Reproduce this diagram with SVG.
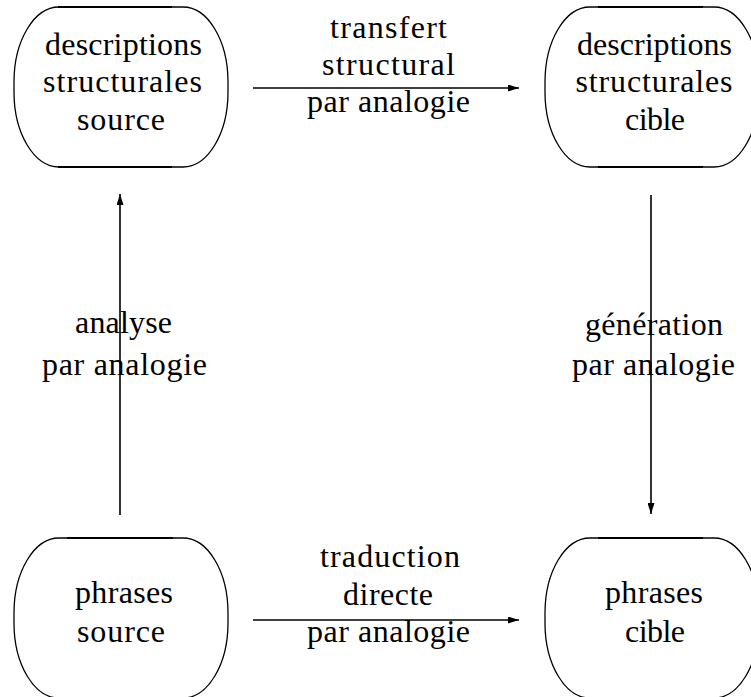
<svg xmlns="http://www.w3.org/2000/svg" width="751" height="697" viewBox="0 0 751 697">
  <defs>
    <marker id="head" markerWidth="11" markerHeight="7" refX="11" refY="3.5" orient="auto" markerUnits="userSpaceOnUse">
      <path d="M0,0 L11,3.5 L0,7 Z" fill="#000"/>
    </marker>
    <style>
      .box { fill: #fff; stroke: #000; stroke-width: 1.3; }
      .edge { stroke: #000; stroke-width: 2.2; }
      .lbl { font-family: 'Liberation Serif', serif; font-size: 32px; fill: #000; text-anchor: middle; }
      .conn { stroke: #000; stroke-width: 1.6; fill: none; marker-end: url(#head); }
    </style>
  </defs>
  <rect width="751" height="697" fill="#fff"/>

  <!-- source structural descriptions -->
  <g id="desc-source">
    <path class="box" d="M59,7 H183 A45,75 0 0 1 228,82 V92 A45,75 0 0 1 183,167 H59 A45,75 0 0 1 14,92 V82 A45,75 0 0 1 59,7 Z"/>
    <line class="edge" x1="58" y1="7" x2="172" y2="7"/>
    <line class="edge" x1="58" y1="167" x2="172" y2="167"/>
    <text class="lbl" x="123.5" y="55" textLength="157">descriptions</text>
    <text class="lbl" x="122.5" y="92" textLength="159">structurales</text>
    <text class="lbl" x="121" y="130" textLength="88">source</text>
  </g>

  <!-- target structural descriptions -->
  <g id="desc-cible">
    <path class="box" d="M590,7 H714 A45,75 0 0 1 759,82 V92 A45,75 0 0 1 714,167 H590 A45,75 0 0 1 545,92 V82 A45,75 0 0 1 590,7 Z"/>
    <line class="edge" x1="598" y1="7" x2="703" y2="7"/>
    <line class="edge" x1="598" y1="167" x2="703" y2="167"/>
    <text class="lbl" x="654.5" y="55" textLength="155">descriptions</text>
    <text class="lbl" x="654" y="92" textLength="157">structurales</text>
    <text class="lbl" x="655" y="130" textLength="60">cible</text>
  </g>

  <!-- source sentences -->
  <g id="phrases-source">
    <path class="box" d="M59,538 H183 A45,75 0 0 1 228,613 V623 A45,75 0 0 1 183,698 H59 A45,75 0 0 1 14,623 V613 A45,75 0 0 1 59,538 Z"/>
    <line class="edge" x1="67" y1="538" x2="173" y2="538"/>
    <text class="lbl" x="124" y="603" textLength="98">phrases</text>
    <text class="lbl" x="121" y="642" textLength="88">source</text>
  </g>

  <!-- target sentences -->
  <g id="phrases-cible">
    <path class="box" d="M590,538 H714 A45,75 0 0 1 759,613 V623 A45,75 0 0 1 714,698 H590 A45,75 0 0 1 545,623 V613 A45,75 0 0 1 590,538 Z"/>
    <line class="edge" x1="598" y1="538" x2="703" y2="538"/>
    <text class="lbl" x="654" y="603" textLength="98">phrases</text>
    <text class="lbl" x="655" y="642" textLength="60">cible</text>
  </g>

  <!-- connectors -->
  <g id="connectors">
    <line class="conn" x1="253" y1="88" x2="519" y2="88"/>
    <line class="conn" x1="253" y1="620" x2="519" y2="620"/>
    <line class="conn" x1="120" y1="515" x2="120" y2="194"/>
    <line class="conn" x1="651" y1="195" x2="651" y2="514"/>
  </g>

  <!-- connector labels -->
  <g id="labels">
    <text class="lbl" x="388.5" y="38" textLength="117">transfert</text>
    <text class="lbl" x="388.5" y="75" textLength="133">structural</text>
    <text class="lbl" x="388.5" y="112" textLength="163">par analogie</text>
    <text class="lbl" x="390" y="567" textLength="140">traduction</text>
    <text class="lbl" x="388" y="605" textLength="90">directe</text>
    <text class="lbl" x="388.5" y="642" textLength="163">par analogie</text>
    <text class="lbl" x="123.5" y="333" textLength="97">analyse</text>
    <text class="lbl" x="124.5" y="375" textLength="165">par analogie</text>
    <text class="lbl" x="654" y="335" textLength="138">génération</text>
    <text class="lbl" x="653.5" y="375" textLength="163">par analogie</text>
  </g>
</svg>
